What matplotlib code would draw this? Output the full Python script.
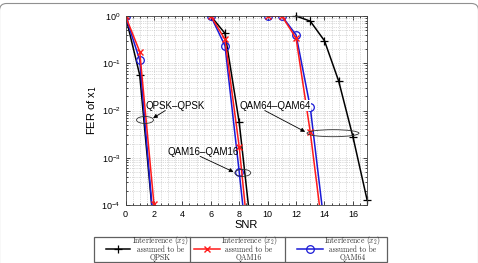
import numpy as np
import matplotlib
matplotlib.use("Agg")
import matplotlib.pyplot as plt
from matplotlib.patches import Ellipse, FancyBboxPatch, Rectangle
from matplotlib.lines import Line2D

plt.rcParams['font.family'] = ['Liberation Sans', 'DejaVu Sans']
plt.rcParams['mathtext.fontset'] = 'cm'

# QPSK - QPSK group
snr_qpsk = [0, 1, 2]
fer_qpsk_int_qpsk = [1.0, 0.056, 3e-5]
fer_qpsk_int_q16 = [1.0, 0.176, 1.05e-4]
fer_qpsk_int_q64 = [1.0, 0.117, 3e-5]

# QAM16 - QAM16 group
snr_q16 = [6, 7, 8, 9]
fer_q16_int_qpsk = [1.0, 0.43, 0.0056, 1.1e-5]
fer_q16_int_q16 = [1.0, 0.32, 0.0017, 1.7e-6]
fer_q16_int_q64 = [1.0, 0.235, 5e-4, 8e-7]

# QAM64 - QAM64 group
snr_q64_black = [12, 13, 14, 15, 16, 17]
fer_q64_int_qpsk = [1.0, 0.78, 0.30, 0.042, 0.0028, 1.28e-4]
snr_q64 = [10, 11, 12, 13, 14]
fer_q64_int_q16 = [1.0, 1.0, 0.34, 0.0035, 1.4e-5]
fer_q64_int_q64 = [1.0, 1.0, 0.40, 0.0117, 3.5e-5]

legend_labels = ["QPSK", "QAM16", "QAM64"]

fig = plt.figure(figsize=(4.78, 2.63), dpi=100)
ax = fig.add_axes([0.2626, 0.2205, 0.5054, 0.7185])

black = dict(color='k', lw=1.1, marker='+', ms=6, mew=0.9)
red = dict(color='#ff1a1a', lw=1.1, marker='x', ms=5, mew=1.0)
blue = dict(color='#1a1ad6', lw=1.1, marker='o', ms=5.5, mew=0.9, mfc='none')

for snr, fk, fr, fb in [(snr_qpsk, fer_qpsk_int_qpsk, fer_qpsk_int_q16, fer_qpsk_int_q64),
                        (snr_q16, fer_q16_int_qpsk, fer_q16_int_q16, fer_q16_int_q64)]:
    ax.semilogy(snr, fk, **black)
    ax.semilogy(snr, fb, **blue)
    ax.semilogy(snr, fr, **red)
ax.semilogy(snr_q64_black, fer_q64_int_qpsk, clip_on=False, **black)
ax.semilogy(snr_q64, fer_q64_int_q64, **blue)
ax.semilogy(snr_q64, fer_q64_int_q16, **red)

ax.set_xlim(0, 17)
ax.set_ylim(1e-4, 1)
ax.set_xticks(np.arange(0, 17, 2))
ax.set_xticks(np.arange(0, 17.01, 0.5), minor=True)
ax.grid(True, which='both', ls=':', lw=0.5, color='#b8b8b8')
ax.tick_params(which='both', direction='in', top=True, right=True,
               labelsize=6.5, length=3, width=0.5)
ax.tick_params(which='minor', length=1.5)
for s in ax.spines.values():
    s.set_linewidth(0.6)
    s.set_color('#404040')
ax.set_xlabel("SNR", fontsize=8, labelpad=1)
ax.set_ylabel("FER of x$_1$", fontsize=8, labelpad=2)
ax.yaxis.label.set_math_fontfamily('dejavusans')


def to_axes(x, y):
    return x / 17.0, (np.log10(y) + 4) / 4.0


# ellipses and annotations
for (cx, cy, w, h) in [(1.37, 10**-2.2, 0.07, 0.037),
                       (8.25, 10**-3.32, 0.066, 0.037),
                       (14.6, 10**-2.48, 0.215, 0.037)]:
    ex, ey = to_axes(cx, cy)
    ax.add_patch(Ellipse((ex, ey), w, h, transform=ax.transAxes,
                         fill=False, lw=0.6, ec='#303030', zorder=5))

arrow = dict(arrowstyle='-|>', lw=0.6, color='k', mutation_scale=6,
             shrinkA=0, shrinkB=0)
ax.text(1.44, 10**-1.9, "QPSK–QPSK", fontsize=7, va='center', ha='left')
ax.annotate("", xy=(1.94, 10**-2.16), xytext=(2.8, 10**-2.0), arrowprops=arrow)
ax.text(2.97, 10**-2.87, "QAM16–QAM16", fontsize=7, va='center', ha='left')
ax.annotate("", xy=(7.6, 10**-3.3), xytext=(5.25, 10**-2.97), arrowprops=arrow)
ax.text(8.0, 10**-1.9, "QAM64–QAM64", fontsize=7, va='center', ha='left',
        bbox=dict(fc='white', ec='none', pad=0.5))
ax.annotate("", xy=(12.64, 10**-2.45), xytext=(9.8, 10**-2.0), arrowprops=arrow)

# legend drawn as a table below the axes
W, H = 478.0, 263.0
def fx(px): return px / W
def fy(py): return 1 - py / H

box_l, box_r, box_t, box_b = 94, 387, 237, 261.5
fig.add_artist(Rectangle((fx(box_l), fy(box_b)), fx(box_r) - fx(box_l),
                         fy(box_t) - fy(box_b), fill=False, lw=0.9, ec='#606060',
                         transform=fig.transFigure))
for sx in [190, 285]:
    fig.add_artist(Line2D([fx(sx), fx(sx)], [fy(box_t), fy(box_b)], lw=0.9,
                          color='#606060', transform=fig.transFigure))

handles = [(106, 130, black), (194, 220, red), (297, 323, blue)]
text_cx = [160.5, 249, 352.5]
for (x0, x1, st), tcx, lab in zip(handles, text_cx, legend_labels):
    st2 = dict(st)
    st2['markevery'] = [1]
    fig.add_artist(Line2D([fx(x0), fx((x0 + x1) / 2), fx(x1)], [fy(249)] * 3,
                          transform=fig.transFigure, **st2))
    for txt, py in [("Interference $(x_2)$", 240.5), ("assumed to be", 250),
                    (lab, 258)]:
        fig.text(fx(tcx), fy(py), txt, fontsize=5.5, family='cmr10',
                 ha='center', va='center', color='#303030')

# rounded frame along the top (pixel-based placement in inches)
dpi = 100.0
fig.add_artist(FancyBboxPatch((-0.5 / dpi, -2.0), 479.0 / dpi, (263 - 3.5) / dpi + 2.0,
                              boxstyle='round,pad=0,rounding_size=0.07',
                              fill=False, lw=0.8, ec='#909090',
                              transform=fig.dpi_scale_trans))

fig.savefig("out.png", dpi=100)
